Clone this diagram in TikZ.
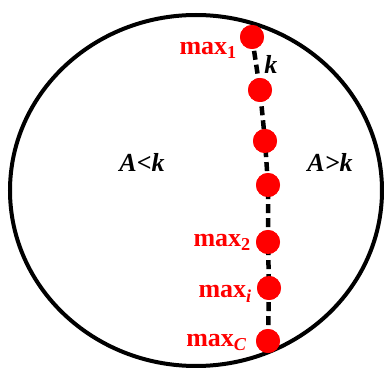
\documentclass[tikz,border=0pt]{standalone}
\usepackage{fontspec}
\setmainfont{Liberation Serif}
\usetikzlibrary{positioning}

\begin{document}
\begin{tikzpicture}[
  x=1pt, y=-1pt,
  maxdot/.style={circle, fill=red, inner sep=0pt, minimum size=24pt},
  maxlab/.style={text=red, font=\fontsize{26}{30}\selectfont\bfseries, anchor=base east, inner sep=0pt},
  region/.style={font=\fontsize{26}{30}\selectfont\bfseries\itshape, anchor=base, inner sep=0pt},
  chain/.style={line width=4.5pt, dash pattern=on 9pt off 5pt}
]
\useasboundingbox (0,0) rectangle (384,369);
\draw[line width=4pt] (196,190.5) ellipse [x radius=186, y radius=175.5];
% points along the line
\node[maxdot] (m1) at (252,37) {};
\node[maxdot] (m2) at (260,90) {};
\node[maxdot] (m3) at (265,141) {};
\node[maxdot] (m4) at (268,185) {};
\node[maxdot] (m5) at (268,242) {};
\node[maxdot] (m6) at (269,288) {};
\node[maxdot] (m7) at (268,341) {};
\draw[chain] (m1.center) -- (m2.center) -- (m3.center) -- (m4.center) -- (m5.center) -- (m6.center) -- (m7.center);
\foreach \n in {m1,m2,m3,m4,m5,m6,m7} \node[maxdot] at (\n) {};
% labels
\node[maxlab] (l1) at (237,55) {max\textsubscript{1}};
\node[maxlab] (l2) at (251,247) {max\textsubscript{2}};
\node[maxlab] (li) at (252,298) {max\textsubscript{\textit{i}}};
\node[maxlab] (lc) at (247,347) {max\textsubscript{\textit{C}}};
\node[region] (k) at (271,74) {k};
\node[region] (lo) at (142,172) {A<k};
\node[region] (hi) at (330,172) {A>k};
\end{tikzpicture}
\end{document}
